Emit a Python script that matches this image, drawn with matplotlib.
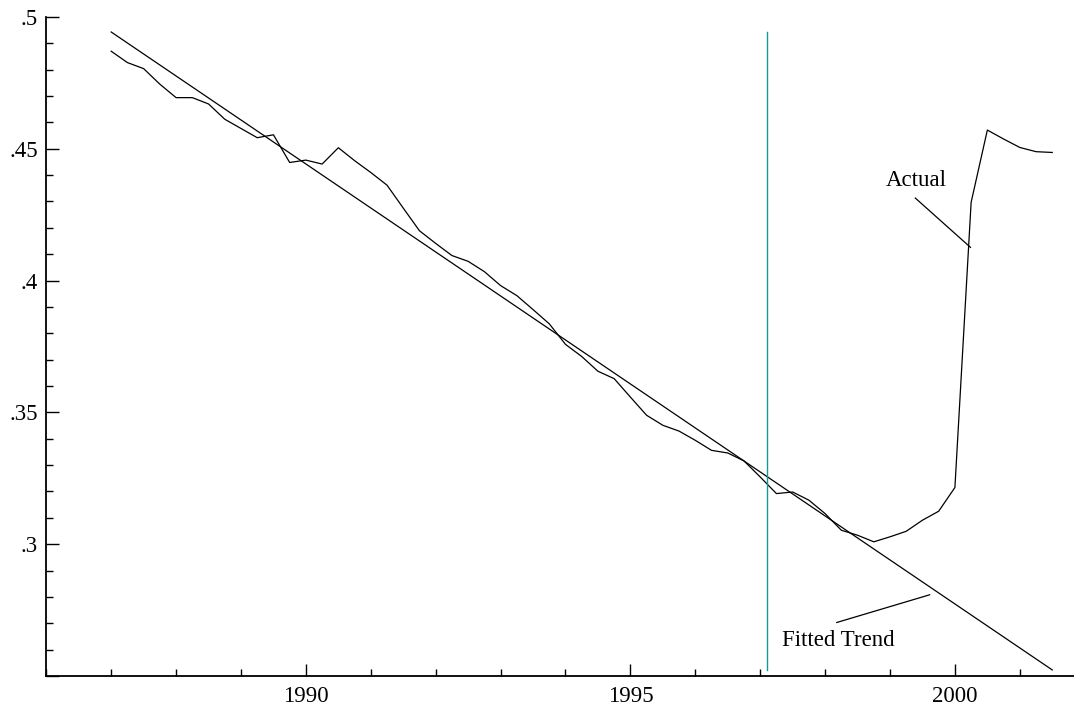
import numpy as np
import matplotlib
matplotlib.use('Agg')
import matplotlib.pyplot as plt
from matplotlib.ticker import MultipleLocator, FuncFormatter

plt.rcParams['font.family'] = ['Liberation Serif', 'DejaVu Serif']

# quarterly observations, 1987Q1 .. 2001Q3
quarters = np.arange(1987.0, 2001.51, 0.25)
actual = [0.4870, 0.4827, 0.4804, 0.4745, 0.4694, 0.4694, 0.4670, 0.4612,
          0.4577, 0.4542, 0.4553, 0.4448, 0.4457, 0.4442, 0.4504, 0.4455,
          0.4410, 0.4362, 0.4275, 0.4189, 0.4141, 0.4095, 0.4073, 0.4034,
          0.3981, 0.3943, 0.3890, 0.3836, 0.3758, 0.3712, 0.3656, 0.3628,
          0.3558, 0.3489, 0.3451, 0.3429, 0.3394, 0.3356, 0.3346, 0.3316,
          0.3255, 0.3192, 0.3198, 0.3167, 0.3116, 0.3053, 0.3034, 0.3009,
          0.3028, 0.3049, 0.3091, 0.3125, 0.3215, 0.4297, 0.4571, 0.4537,
          0.4505, 0.4489, 0.4486]

# fitted linear trend, end points
trend_years = [1987.0, 2001.5]
trend_values = [0.4943, 0.2523]

# sample split
split_year = 1997.11

fig = plt.figure(figsize=(10.74, 7.13), dpi=100)
ax = fig.add_axes([0.0431, 0.0519, 1.0 - 0.0431, 0.9762 - 0.0519])

ax.plot(quarters, actual, color='black', lw=0.9)
ax.plot(trend_years, trend_values, color='black', lw=0.9)
ax.plot([split_year, split_year], [trend_values[1], trend_values[0]],
        color='#109a9a', lw=1.0)

# labels with pointer lines
ax.text(1999.40, 0.4379, 'Actual', fontsize=16.5, ha='center', va='center')
ax.plot([1999.39, 2000.24], [0.4313, 0.4126], color='black', lw=0.9)
ax.text(1998.21, 0.2636, 'Fitted Trend', fontsize=16.5, ha='center', va='center')
ax.plot([1998.18, 1999.61], [0.2703, 0.2808], color='black', lw=0.9)

ax.set_xlim(1986.0, 2001.835)
ax.set_ylim(0.25, 0.5)

ax.xaxis.set_major_locator(MultipleLocator(5))
ax.xaxis.set_minor_locator(MultipleLocator(1))
ax.yaxis.set_major_locator(MultipleLocator(0.05))
ax.yaxis.set_minor_locator(MultipleLocator(0.01))
ax.yaxis.set_major_formatter(FuncFormatter(
    lambda v, p: ('%g' % round(v, 3)).lstrip('0') if v > 0.26 else ''))
ax.xaxis.set_major_formatter(FuncFormatter(lambda v, p: '%d' % v if v > 1986.5 else ''))

ax.tick_params(which='both', direction='in', labelsize=16.5, width=1, color='black')
ax.tick_params(which='major', length=9)
ax.tick_params(which='minor', length=5)
ax.tick_params(axis='y', pad=6)
ax.tick_params(axis='x', pad=7)

for s in ['top', 'right']:
    ax.spines[s].set_visible(False)
for s in ['left', 'bottom']:
    ax.spines[s].set_linewidth(1.3)

fig.savefig('out.png', dpi=100)
